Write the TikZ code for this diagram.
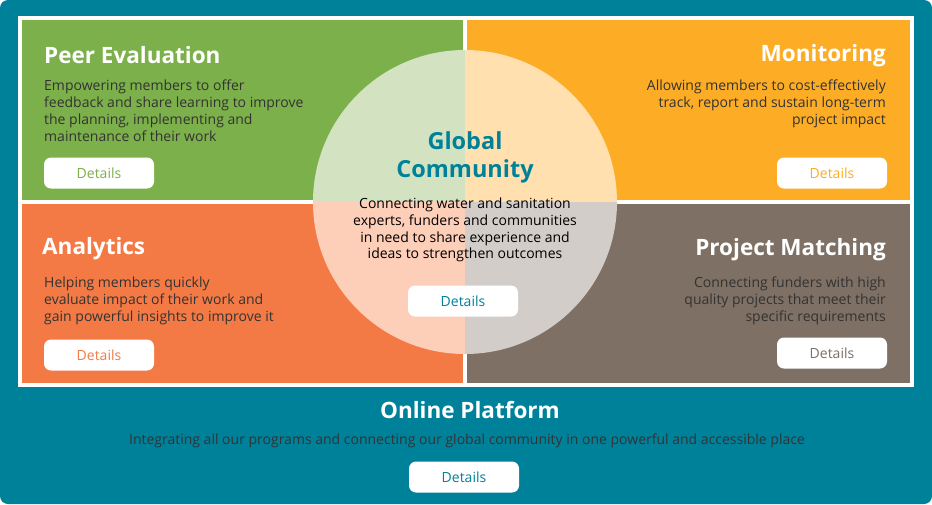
\documentclass[tikz,border=0pt]{standalone}
\usepackage{fontspec}
\setmainfont{Open Sans}
\definecolor{teal}{HTML}{00819A}
\definecolor{cgreen}{HTML}{7CB04A}
\definecolor{corange}{HTML}{FDAD25}
\definecolor{cred}{HTML}{F47A45}
\definecolor{cbrown}{HTML}{7E7064}
\definecolor{lgreen}{HTML}{D3E3C2}
\definecolor{lorange}{HTML}{FFE0AE}
\definecolor{lred}{HTML}{FDCEB8}
\definecolor{lbrown}{HTML}{D3CDC9}
\definecolor{txt}{HTML}{333333}
\tikzset{
  title/.style={font=\fontsize{22.5}{28}\selectfont\bfseries, text=white, inner sep=0pt},
  body/.style={font=\fontsize{14}{17}\selectfont, text=txt, inner sep=0pt},
  btn/.style={fill=white, rounded corners=7pt, minimum width=110pt, minimum height=31pt, font=\fontsize{14}{16}\selectfont, inner sep=0pt},
}
\begin{document}
\begin{tikzpicture}[x=1pt,y=-1pt]
\useasboundingbox (0,0) rectangle (932,504);
\fill[teal, rounded corners=8pt] (0,0) rectangle (932,504);
\fill[white] (18,16) rectangle (914,387);
\fill[cgreen] (22,20) rectangle (463,200);
\fill[corange] (467,20) rectangle (910,200);
\fill[cred] (22,204) rectangle (463,383);
\fill[cbrown] (467,204) rectangle (910,383);
\begin{scope}
\clip (465,202) circle (152);
\fill[lgreen] (300,40) rectangle (465,202);
\fill[lorange] (465,40) rectangle (630,202);
\fill[lred] (300,202) rectangle (465,370);
\fill[lbrown] (465,202) rectangle (630,370);
\end{scope}

\node[title, anchor=west] (t1) at (44,55) {Peer Evaluation};
\node[body, anchor=north west, align=left] (b1) at (44,80) {Empowering members to offer\\feedback and share learning to improve\\the planning, implementing and\\maintenance of their work};
\node[btn, text=cgreen] (k1) at (99,173) {Details};

\node[title, anchor=east] (t2) at (886,56) {Monitoring};
\node[body, anchor=north east, align=right] (b2) at (886,80) {Allowing members to cost-effectively\\track, report and sustain long-term\\project impact};
\node[btn, text=corange] (k2) at (832,173) {Details};

\node[title, anchor=west] (t3) at (42,249) {Analytics};
\node[body, anchor=north west, align=left] (b3) at (44,277) {Helping members quickly\\evaluate impact of their work and\\gain powerful insights to improve it};
\node[btn, text=cred] (k3) at (99,355) {Details};

\node[title, anchor=east] (t4) at (886,250) {Project Matching};
\node[body, anchor=north east, align=right] (b4) at (886,277) {Connecting funders with high\\quality projects that meet their\\specific requirements};
\node[btn, text=cbrown] (k4) at (832,353) {Details};

\node[font=\fontsize{23.5}{28}\selectfont\bfseries, text=teal, align=center, inner sep=0pt] (tc) at (465,157) {Global\\Community};
\node[body, align=center, anchor=north, font=\fontsize{14}{16.7}\selectfont, text=black] (bc) at (465,198) {Connecting water and sanitation\\experts, funders and communities\\in need to share experience and\\ideas to strengthen outcomes};
\node[btn, text=teal] (kc) at (463,301) {Details};

\node[title] (to) at (470,410) {Online Platform};
\node[body, font=\fontsize{14}{15}\selectfont] (bo) at (467,441) {Integrating all our programs and connecting our global community in one powerful and accessible place};
\node[btn, text=teal] (ko) at (464,477) {Details};
\end{tikzpicture}
\end{document}
